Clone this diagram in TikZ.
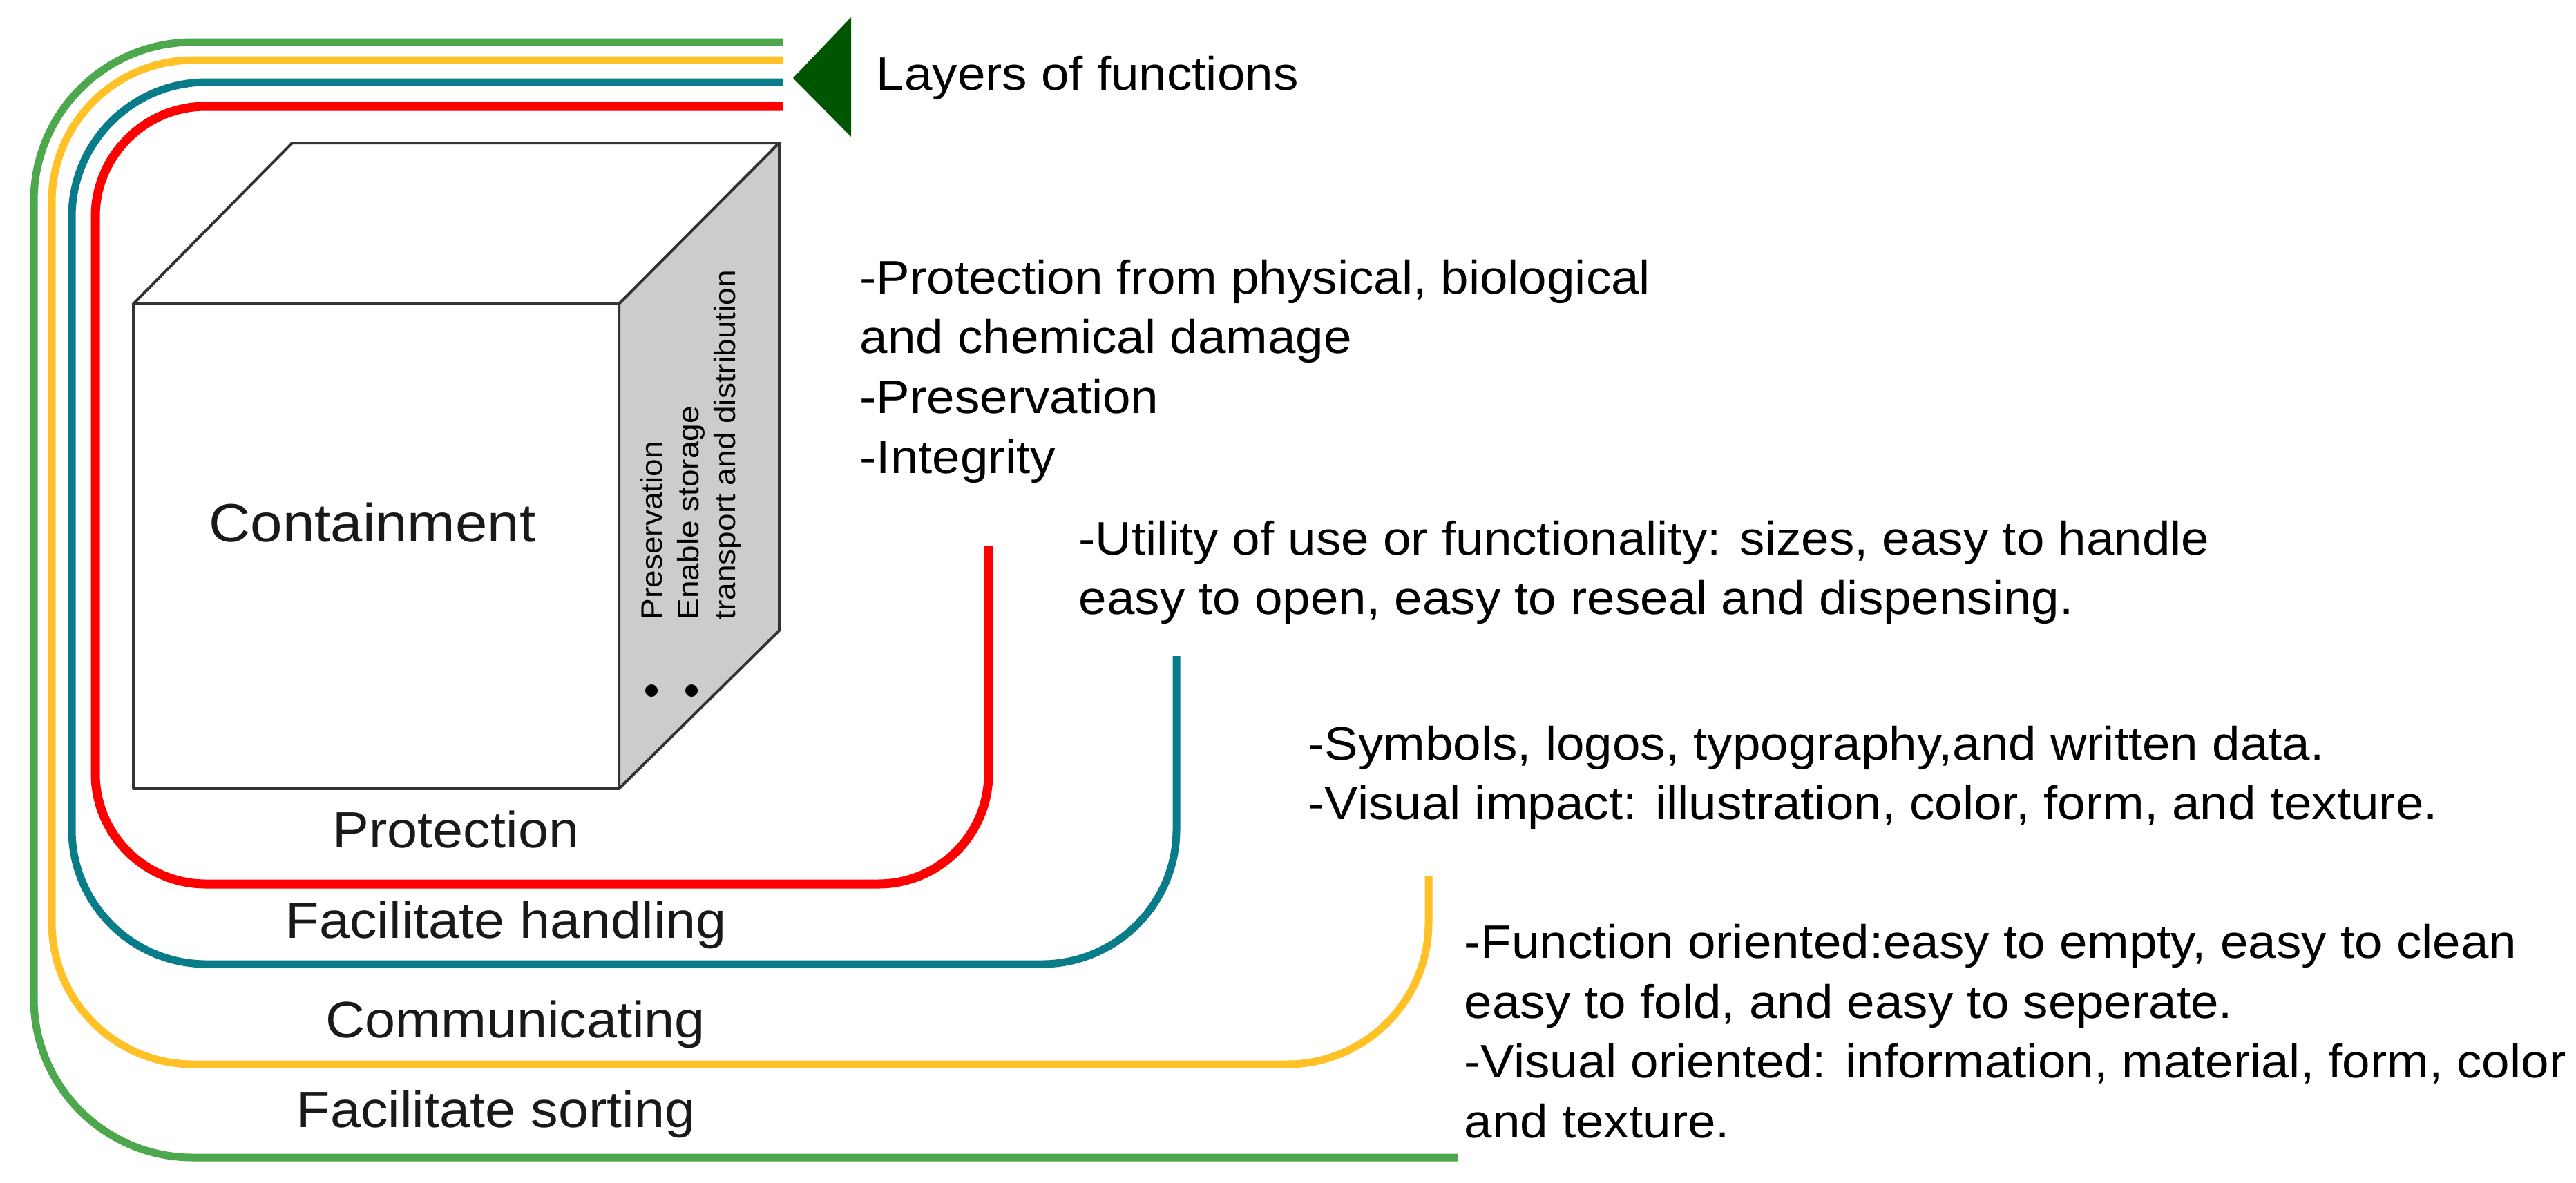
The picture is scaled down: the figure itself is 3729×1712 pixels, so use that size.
\documentclass[tikz,border=0pt]{standalone}
\usepackage{fontspec}
\newfontfamily\layerfont[FakeStretch=1.07]{Liberation Sans}
\usepackage{tikz}
\definecolor{protred}{RGB}{255,0,0}
\definecolor{handteal}{RGB}{8,124,136}
\definecolor{commyellow}{RGB}{255,193,37}
\definecolor{sortgreen}{RGB}{77,168,77}
\definecolor{arrowgreen}{RGB}{0,85,0}
\definecolor{sidegray}{RGB}{204,204,204}
\definecolor{edgegray}{RGB}{51,51,51}

\begin{document}
\begin{tikzpicture}[x=0.1mm, y=-0.1mm, line join=round,
	layer/.style={line width=1.1mm, rounded corners=#1},
	box/.style={draw=edgegray, line width=0.4mm},
	desc/.style={anchor=north west, align=left, inner sep=0pt, font=\layerfont\fontsize{19.35pt}{24.75pt}\selectfont},
	lbl/.style={anchor=base, inner sep=0pt, text=black!90, font=\layerfont\fontsize{21.05pt}{25pt}\selectfont}]
	\useasboundingbox (0,0) rectangle (3729,1712);
	\draw[layer=23mm, sortgreen] (1133,61) -- (49,61) -- (49,1676) -- (2110,1676);
	\draw[layer=20.5mm, commyellow] (1133,87) -- (75,87) -- (75,1541) -- (2068,1541) -- (2068,1268);
	\draw[layer=19.5mm, handteal] (1133,119) -- (104,119) -- (104,1396) -- (1703,1396) -- (1703,950);
	\draw[layer=16mm, protred, line width=1.3mm] (1133,154) -- (138,154) -- (138,1280) -- (1431,1280) -- (1431,790);
	\fill[arrowgreen] (1148,113) -- (1232,25) -- (1232,198) -- cycle;
	\draw[box, fill=white] (193,440) -- (423,207) -- (1128,207) -- (896,440) -- cycle;
	\draw[box, fill=sidegray] (896,440) -- (1128,207) -- (1128,913) -- (896,1142) -- cycle;
	\draw[box, fill=white] (193,440) rectangle (896,1142);
	\fill (943,1000) circle (0.9mm);
	\fill (1001,1000) circle (0.9mm);
	\node[desc, anchor=base west] (layers) at (1268,130) {Layers of functions};
	\node[desc] (physical) at (1244,375) {-Protection from physical, biological\\and chemical damage\\-Preservation\\-Integrity};
	\node[desc] (utility) at (1561,753) {-Utility of use or functionality: sizes, easy to handle\\easy to open, easy to reseal and dispensing.};
	\node[desc] (symbols) at (1893,1050) {-Symbols, logos, typography,and written data.\\-Visual impact: illustration, color, form, and texture.};
	\node[desc] (oriented) at (2119,1337) {-Function oriented:easy to empty, easy to clean\\easy to fold, and easy to seperate.\\-Visual oriented: information, material, form, color\\and texture.};
	\node[desc, rotate=90, font=\layerfont\fontsize{12.23pt}{15.08pt}\selectfont] (sidetext) at (927,898) {Preservation\\Enable storage\\transport and distribution};
	\node[lbl, font=\layerfont\fontsize{22.19pt}{26pt}\selectfont] (containment) at (539,784) {Containment};
	\node[lbl] (protection) at (660,1227) {Protection};
	\node[lbl] (handling) at (733,1358) {Facilitate handling};
	\node[lbl] (communicating) at (746,1502) {Communicating};
	\node[lbl] (sorting) at (718,1632) {Facilitate sorting};
\end{tikzpicture}
\end{document}
